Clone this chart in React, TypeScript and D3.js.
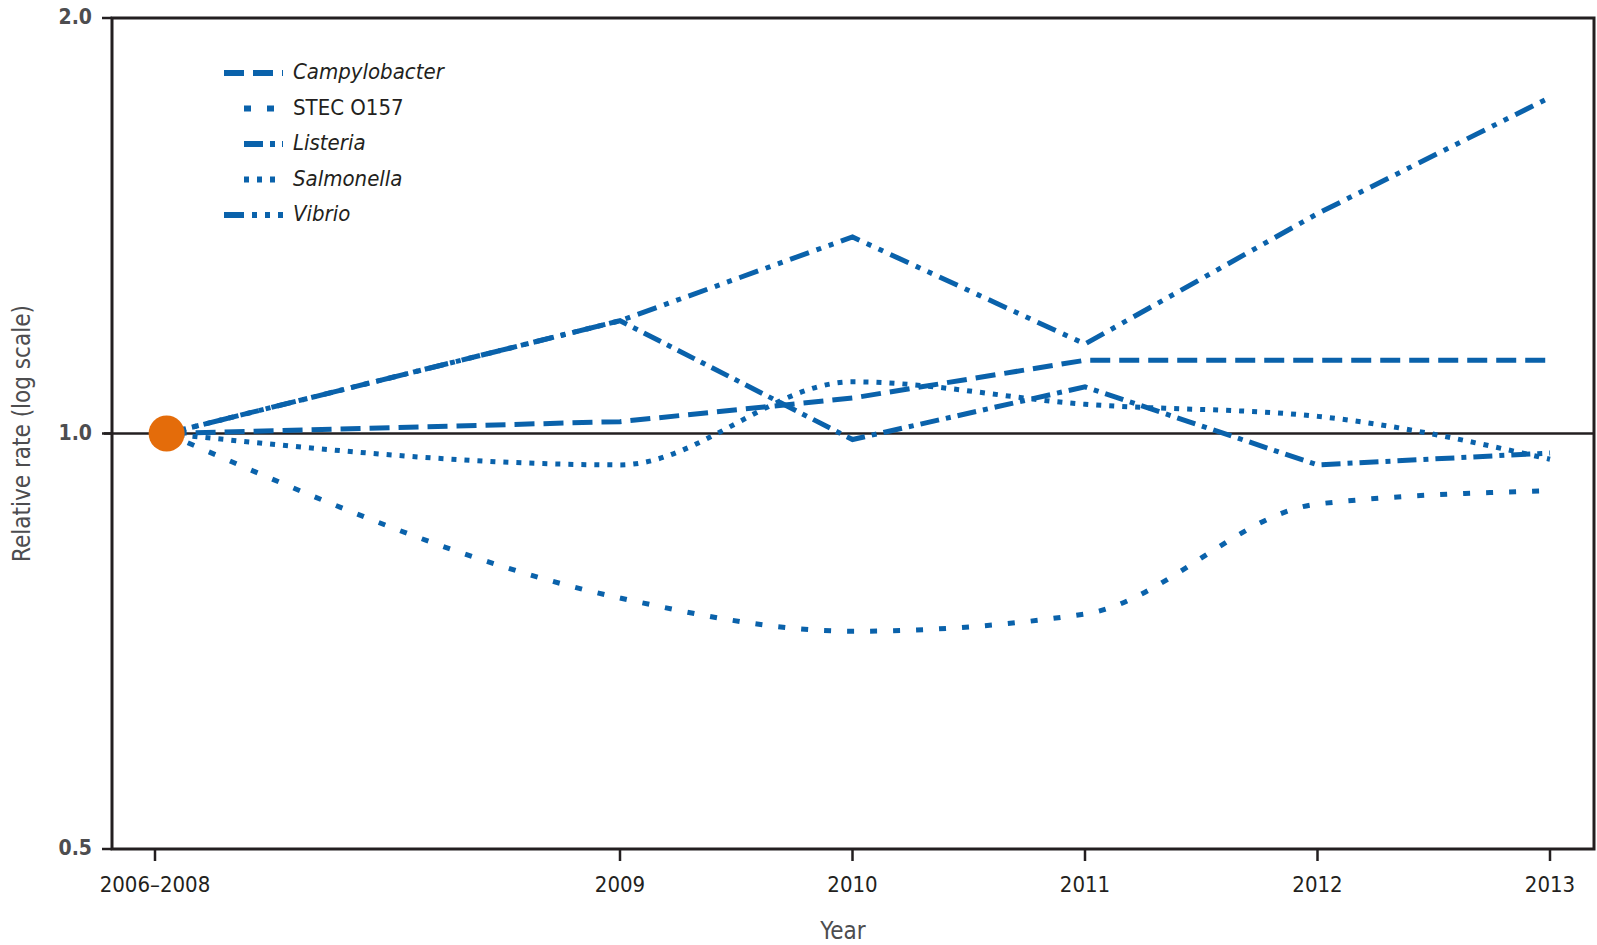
import React from "react";
import * as d3 from "d3";

// x positions: the 2006–2008 baseline sits one period before 2009 (spaced as 2007)
const tickYears = [2007, 2009, 2010, 2011, 2012, 2013];
const yearLabels = ["2006–2008", "2009", "2010", "2011", "2012", "2013"];
// the baseline point is drawn a touch right of its tick, as in the original
const pointYears = [2007.05, 2009, 2010, 2011, 2012, 2013];
const yTicks = [0.5, 1.0, 2.0];

const campylobacter = [1.0, 1.02, 1.061, 1.13, 1.13, 1.13];
const stec = [1.0, 0.76, 0.719, 0.74, 0.889, 0.909];
const listeria = [1.0, 1.207, 0.99, 1.081, 0.949, 0.968];
const salmonella = [1.0, 0.949, 1.09, 1.05, 1.029, 0.958];
const vibrio = [1.0, 1.207, 1.388, 1.161, 1.443, 1.752];

const seriesNames = ["Campylobacter", "STEC O157", "Listeria", "Salmonella", "Vibrio"];
const italicNames = [true, false, true, true, true];

const W = 1597;
const H = 945;
const frame = { left: 112, top: 18, right: 1594, bottom: 849 };
const blue = "#0a62ab";
const ink = "#231f20";
const font = "'DejaVu Sans Condensed', 'Liberation Sans Narrow', 'Open Sans', sans-serif";

const dashes = ["20 9", "7 16", "19 7 5 7", "5 8", "20 8 5 8 5 8"];
const curves = [
  d3.curveLinear,
  d3.curveMonotoneX,
  d3.curveLinear,
  d3.curveMonotoneX,
  d3.curveLinear,
];

export default function App() {
  const x = d3.scaleLinear().domain([2007, 2013]).range([155, 1550]);
  const y = d3.scaleLog().domain([0.5, 2]).range([frame.bottom, frame.top]);
  const all = [campylobacter, stec, listeria, salmonella, vibrio];

  const lineFor = (c: d3.CurveFactory) =>
    d3
      .line<number>()
      .x((_, i) => x(pointYears[i]))
      .y((d) => y(d))
      .curve(c);

  const legendY = 73;
  const legendStep = 35.5;
  const sampleStart = [224, 244, 244, 244, 224];

  return (
    <svg
      width={W}
      height={H}
      style={{ position: "absolute", left: 0, top: 0, background: "white" }}
    >
      {/* 1.0 reference line */}
      <line
        x1={frame.left - 8}
        x2={frame.right}
        y1={y(1)}
        y2={y(1)}
        stroke={ink}
        strokeWidth={2.5}
      />

      {all.map((vals, i) => (
        <path
          key={seriesNames[i]}
          d={lineFor(curves[i])(vals) ?? ""}
          fill="none"
          stroke={blue}
          strokeWidth={5}
          strokeDasharray={dashes[i]}
        />
      ))}

      <circle cx={x(pointYears[0])} cy={y(1)} r={18} fill="#e46c0a" />

      {/* frame */}
      <rect
        x={frame.left}
        y={frame.top}
        width={frame.right - frame.left}
        height={frame.bottom - frame.top}
        fill="none"
        stroke={ink}
        strokeWidth={3}
      />

      {/* y ticks */}
      {yTicks.map((t) => (
        <g key={t}>
          <line
            x1={frame.left - 10}
            x2={frame.left}
            y1={y(t)}
            y2={y(t)}
            stroke={ink}
            strokeWidth={2.5}
          />
          <text
            x={frame.left - 20}
            y={y(t)}
            textAnchor="end"
            dominantBaseline="middle"
            fontFamily={font}
            fontSize={21}
            fill="#4d4d4f"
            fontWeight="bold"
          >
            {t.toFixed(1)}
          </text>
        </g>
      ))}

      {/* x ticks */}
      {tickYears.map((yr, i) => (
        <g key={yr}>
          <line
            x1={x(yr)}
            x2={x(yr)}
            y1={frame.bottom}
            y2={frame.bottom + 12}
            stroke={ink}
            strokeWidth={2.5}
          />
          <text
            x={x(yr)}
            y={886}
            textAnchor="middle"
            dominantBaseline="middle"
            fontFamily={font}
            fontSize={22}
            fill={ink}
          >
            {yearLabels[i]}
          </text>
        </g>
      ))}

      <text
        x={843}
        y={932}
        textAnchor="middle"
        dominantBaseline="middle"
        fontFamily={font}
        fontSize={24}
        fill="#4d4d4f"
      >
        Year
      </text>
      <text
        transform={`translate(23, ${y(1)}) rotate(-90)`}
        textAnchor="middle"
        dominantBaseline="middle"
        fontFamily={font}
        fontSize={24}
        fill="#4d4d4f"
      >
        Relative rate (log scale)
      </text>

      {/* legend */}
      {seriesNames.map((name, i) => {
        const ly = legendY + i * legendStep;
        return (
          <g key={name}>
            <line
              x1={sampleStart[i]}
              x2={283}
              y1={ly}
              y2={ly}
              stroke={blue}
              strokeWidth={6}
              strokeDasharray={dashes[i]}
            />
            <text
              x={293}
              y={ly}
              dominantBaseline="middle"
              fontFamily={font}
              fontSize={22}
              fontStyle={italicNames[i] ? "italic" : "normal"}
              fill={ink}
            >
              {name}
            </text>
          </g>
        );
      })}
    </svg>
  );
}
